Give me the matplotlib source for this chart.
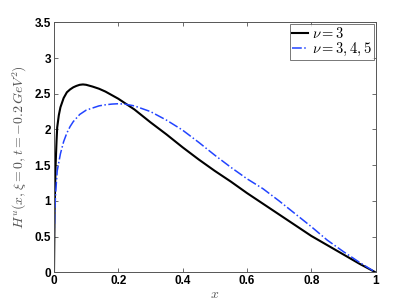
import matplotlib
matplotlib.use("Agg")
import matplotlib.pyplot as plt

plt.rcParams["mathtext.fontset"] = "cm"

x_nu3 = [0.0, 0.002, 0.005, 0.008, 0.01, 0.015, 0.02, 0.03, 0.04, 0.05, 0.06,
         0.07, 0.08, 0.09, 0.10, 0.12, 0.14, 0.16, 0.18, 0.20, 0.25, 0.30,
         0.35, 0.40, 0.45, 0.50, 0.55, 0.60, 0.65, 0.70, 0.75, 0.80, 0.85,
         0.90, 0.95, 1.0]
y_nu3 = [0.0, 0.90, 1.50, 1.85, 2.03, 2.20, 2.31, 2.44, 2.52, 2.56, 2.59,
         2.61, 2.625, 2.63, 2.625, 2.60, 2.57, 2.53, 2.48, 2.43, 2.28, 2.10,
         1.93, 1.75, 1.58, 1.42, 1.27, 1.11, 0.96, 0.81, 0.66, 0.51, 0.38,
         0.25, 0.12, 0.0]

x_nu345 = [0.0, 0.003, 0.005, 0.01, 0.02, 0.03, 0.04, 0.05, 0.06, 0.08,
           0.10, 0.12, 0.14, 0.16, 0.18, 0.20, 0.22, 0.25, 0.30, 0.35, 0.40,
           0.45, 0.50, 0.55, 0.60, 0.65, 0.70, 0.75, 0.80, 0.85, 0.90, 0.95,
           1.0]
y_nu345 = [0.45, 0.90, 1.10, 1.42, 1.66, 1.83, 1.95, 2.04, 2.11, 2.21,
           2.27, 2.30, 2.33, 2.345, 2.355, 2.36, 2.355, 2.33, 2.25, 2.13, 1.99,
           1.82, 1.64, 1.47, 1.31, 1.17, 1.00, 0.82, 0.64, 0.45, 0.29, 0.14,
           0.0]

GREY = "#555555"

fig = plt.figure(figsize=(4.15, 3.07), dpi=100)
ax = fig.add_axes([54 / 415, 1 - 272.3 / 307, 321.5 / 415, 250 / 307])

ax.plot(x_nu3, y_nu3, color="black", lw=1.5, label=r"$\nu=3$")
ax.plot(x_nu345, y_nu345, color="#2244ff", lw=1.1, ls="-.", label=r"$\nu=3,4,5$")

ax.set_xlim(0, 1)
ax.set_ylim(0, 3.5)
ax.set_xticks([0, 0.2, 0.4, 0.6, 0.8, 1])
ax.set_xticklabels(["0", "0.2", "0.4", "0.6", "0.8", "1"])
ax.set_yticks([0, 0.5, 1, 1.5, 2, 2.5, 3, 3.5])
ax.set_yticklabels(["0", "0.5", "1", "1.5", "2", "2.5", "3", "3.5"])
ax.tick_params(direction="in", top=True, right=True, length=3, width=0.6,
               color=GREY, labelsize=8.5, pad=2)
for lab in ax.get_xticklabels() + ax.get_yticklabels():
    lab.set_fontweight("bold")
    lab.set_family("Liberation Sans")
for s in ax.spines.values():
    s.set_color(GREY)
    s.set_linewidth(0.7)

ax.set_xlabel(r"$x$", fontsize=10, color="#555555", labelpad=0)
ax.set_ylabel(r"$H^u(x,\xi=0,t=-0.2\,GeV^2)$", fontsize=10, color="#555555",
              labelpad=4)

leg = ax.legend(loc="upper right", fontsize=10.5, frameon=True, fancybox=False,
                borderpad=0.15, labelspacing=0.0, handlelength=1.1,
                handletextpad=0.25, borderaxespad=0.1)
leg.get_frame().set_edgecolor(GREY)
leg.get_frame().set_linewidth(0.7)

fig.savefig("out.png", dpi=100)
